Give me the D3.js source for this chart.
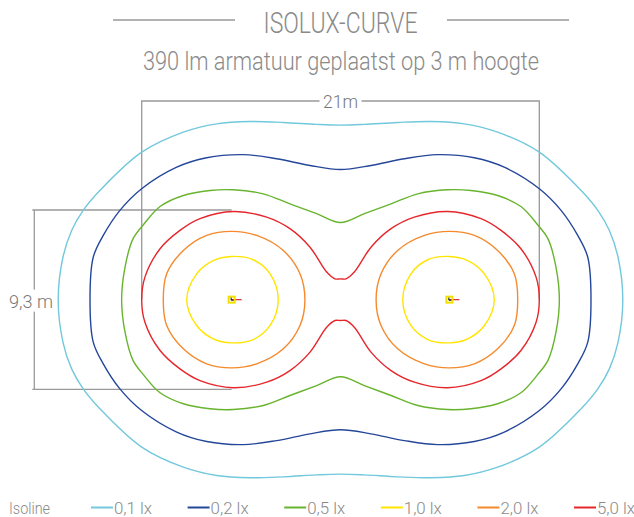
<!DOCTYPE html>
<html lang="nl">
<head>
    <meta charset="utf-8">
    <style>
        body { margin: 0; background: #fff; }
        svg { display: block; }
        text { font-family: Roboto, "Liberation Sans", sans-serif; font-weight: 300; fill: #8a8a8a; }
    </style>
</head>
<body>
    <svg width="634" height="517"></svg>
    <script src="https://cdn.jsdelivr.net/npm/d3@7/dist/d3.min.js"></script>
    <script>
        // Titles and legend texts
        const title = "ISOLUX-CURVE";
        const subtitle = "390 lm armatuur geplaatst op 3 m hoogte";
        const legendTitle = "Isoline";
        const levels = ["0,1 lx", "0,2 lx", "0,5 lx", "1,0 lx", "2,0 lx", "5,0 lx"];
        const levelColors = ["#72c8dc", "#25479a", "#68b42e", "#ffe500", "#f5892c", "#e5262b"];

        // Dimensions (m) and their labels
        const spanWidth = 21;
        const spanHeight = 9.3;
        const dimLabels = ["21m", "9,3 m"];

        // Lamp positions along the x axis (m)
        const lamps = [-5.75, 5.75];

        // Upper-left quarter of the joined contours (m), left end -> middle
        const iso01 = [[-14.91, 0], [-14.66, 2.20], [-14.20, 3.59], [-13.59, 4.63], [-12.70, 5.67],
                       [-10.50, 7.65], [-8.30, 8.69], [-6.54, 9.12], [-4.78, 9.24], [-3.02, 9.19], [-1.26, 9.09], [0, 9.05]];
        const iso02 = [[-13.23, 0], [-13.06, 2.20], [-12.53, 3.33], [-11.65, 4.63], [-10.52, 5.74], [-8.65, 6.87],
                       [-7.07, 7.36], [-5.13, 7.52], [-3.37, 7.31], [-1.61, 6.96], [0, 6.75]];
        const iso05 = [[-11.56, 0], [-11.38, 1.69], [-10.96, 3.15], [-10.40, 3.90], [-9.53, 4.83], [-8.30, 5.40],
                       [-6.89, 5.66], [-5.66, 5.70], [-4.08, 5.49], [-2.67, 4.97], [-1.26, 4.46], [0, 4.00]];
        const iso50 = [[-10.50, 0], [-10.33, 1.17], [-9.53, 2.64], [-8.48, 3.59], [-7.42, 4.20], [-5.66, 4.57],
                       [-3.90, 4.28], [-2.67, 3.68], [-1.61, 2.72], [-0.73, 1.43], [-0.29, 1.08], [0, 1.08]];

        // Upper half of the left lamp's separate contours (m), outer end -> inner end
        const iso10 = [[-8.12, 0], [-7.60, 1.34], [-6.72, 2.03], [-5.75, 2.24], [-4.61, 2.07], [-3.72, 1.34], [-3.29, 0]];
        const iso20 = [[-9.36, 0], [-9.18, 1.34], [-8.30, 2.55], [-7.07, 3.33], [-5.75, 3.54], [-4.43, 3.33],
                       [-3.02, 2.55], [-2.14, 1.34], [-1.88, 0]];

        const svg = d3.select("svg");

        const x = d3.scaleLinear().domain([-spanWidth / 2, spanWidth / 2]).range([141.7, 539.3]);
        const y = d3.scaleLinear().domain([-spanHeight / 2, spanHeight / 2]).range([389.3, 210]);

        /******************** Title ********************/
        svg.append("text").attr("x", 340.5).attr("y", 33).attr("text-anchor", "middle")
            .attr("font-size", 29).attr("textLength", 154).attr("lengthAdjust", "spacingAndGlyphs")
            .text(title);
        svg.append("line").attr("x1", 113).attr("x2", 235).attr("y1", 20).attr("y2", 20)
            .attr("stroke", "#999").attr("stroke-width", 1.3);
        svg.append("line").attr("x1", 447).attr("x2", 569).attr("y1", 20).attr("y2", 20)
            .attr("stroke", "#999").attr("stroke-width", 1.3);
        svg.append("text").attr("x", 341).attr("y", 70).attr("text-anchor", "middle")
            .attr("font-size", 25).attr("textLength", 396).attr("lengthAdjust", "spacingAndGlyphs")
            .text(subtitle);

        /******************** Dimension lines ********************/
        const dims = svg.append("g").attr("stroke", "#999").attr("stroke-width", 1.3).attr("fill", "none");
        const topY = 101;
        dims.append("path").attr("d", `M${x(-spanWidth / 2)},${y(0)}V${topY}H${x(spanWidth / 2)}V${y(0)}`);
        const dimX = 34.3;
        dims.append("path").attr("d", `M${x(lamps[0])},${y(spanHeight / 2)}H${dimX - 2}`);
        dims.append("path").attr("d", `M${x(lamps[0])},${y(-spanHeight / 2)}H${dimX - 2}`);
        dims.append("path").attr("d", `M${dimX},${y(spanHeight / 2)}V${y(-spanHeight / 2)}`);

        // Label backgrounds interrupt the lines
        svg.append("rect").attr("x", x(0) - 21).attr("y", topY - 8).attr("width", 42).attr("height", 16).attr("fill", "#fff");
        svg.append("text").attr("x", x(0)).attr("y", topY + 7).attr("text-anchor", "middle")
            .attr("font-size", 19).attr("textLength", 35).attr("lengthAdjust", "spacingAndGlyphs")
            .style("fill", "#777").text(dimLabels[0]);
        svg.append("rect").attr("x", 8).attr("y", y(0) - 10).attr("width", 47).attr("height", 22).attr("fill", "#fff");
        svg.append("text").attr("x", 9).attr("y", y(0) + 8)
            .attr("font-size", 19).attr("textLength", 44).attr("lengthAdjust", "spacingAndGlyphs")
            .style("fill", "#777").text(dimLabels[1]);

        /******************** Contours ********************/
        // quarter -> full closed outline (mirror over both axes)
        function closePeanut(q) {
            const upper = q.concat(q.slice(0, -1).reverse().map(([a, b]) => [-a, b]));
            return upper.concat(upper.slice(1, -1).reverse().map(([a, b]) => [a, -b]));
        }
        // upper half -> full closed loop (mirror over the lamp axis)
        function closeLobe(h) {
            return h.concat(h.slice(1, -1).reverse().map(([a, b]) => [a, -b]));
        }
        const mirrorX = pts => pts.map(([a, b]) => [-a, b]);

        const contours = [
            { level: 0, shapes: [closePeanut(iso01)] },
            { level: 1, shapes: [closePeanut(iso02)] },
            { level: 2, shapes: [closePeanut(iso05)] },
            { level: 5, shapes: [closePeanut(iso50)] },
            { level: 4, shapes: [closeLobe(iso20), mirrorX(closeLobe(iso20))] },
            { level: 3, shapes: [closeLobe(iso10), mirrorX(closeLobe(iso10))] }
        ];

        const line = d3.line().x(d => x(d[0])).y(d => y(d[1])).curve(d3.curveCatmullRomClosed.alpha(0.5));

        const chart = svg.append("g").attr("fill", "none").attr("stroke-width", 1.4);
        contours.forEach(c => {
            chart.selectAll(null).data(c.shapes).enter().append("path")
                .attr("d", line)
                .attr("stroke", levelColors[c.level]);
        });

        /******************** Lamps ********************/
        const lampG = svg.append("g").selectAll("g").data(lamps).enter().append("g")
            .attr("transform", d => `translate(${x(d)},${y(0)})`);
        lampG.append("line").attr("x1", 0).attr("x2", 10).attr("y1", 0).attr("y2", 0)
            .attr("stroke", levelColors[5]).attr("stroke-width", 1.2);
        lampG.append("rect").attr("x", -3).attr("y", -3).attr("width", 6).attr("height", 6)
            .attr("fill", "none").attr("stroke", "#f2e000").attr("stroke-width", 2);
        lampG.append("path").attr("d", "M-0.5,-2V0.5H2").attr("stroke", "#000").attr("stroke-width", 1).attr("fill", "none");

        /******************** Legend ********************/
        const legendY = 507.5;
        svg.append("text").attr("x", 9).attr("y", legendY + 6.5).attr("font-size", 17)
            .attr("textLength", 41).attr("lengthAdjust", "spacingAndGlyphs").text(legendTitle);
        const item = svg.append("g").selectAll("g").data(levels).enter().append("g")
            .attr("transform", (d, i) => `translate(${91 + i * 96.6},${legendY})`);
        item.append("line").attr("x1", 0).attr("x2", 22).attr("stroke-width", 2)
            .attr("stroke", (d, i) => levelColors[i]);
        item.append("text").attr("x", 23).attr("y", 6.5).attr("font-size", 17)
            .attr("textLength", 38).attr("lengthAdjust", "spacingAndGlyphs").text(d => d);
    </script>
</body>
</html>
